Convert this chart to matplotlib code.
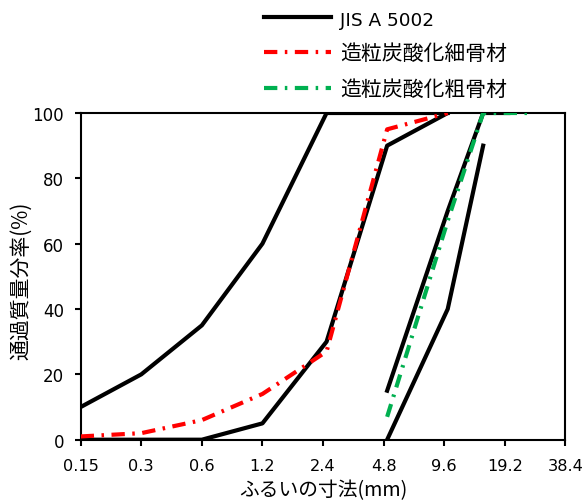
import numpy as np
import matplotlib
matplotlib.use("Agg")
import matplotlib.pyplot as plt
from matplotlib.ticker import FixedLocator, NullLocator

plt.rcParams.update({
    "font.family": ["DejaVu Sans", "Noto Sans CJK JP"],
    "font.size": 12,
    "axes.linewidth": 1.5,
    "xtick.major.width": 1.5,
    "ytick.major.width": 1.5,
    "xtick.major.size": 4,
    "ytick.major.size": 4,
})
JP = ["Noto Sans CJK JP", "DejaVu Sans"]

C_JIS = "black"
C_FINE = "#FF0000"
C_COARSE = "#00B050"

# sieve sizes (mm) and passing percentages
fine_sieves = [0.15, 0.3, 0.6, 1.2, 2.5, 5, 10]
jis_fine_upper = [10, 20, 35, 60, 100, 100, 100]
jis_fine_lower = [0, 0, 0, 5, 30, 90, 100]

coarse_sieves_upper = [5, 10, 15, 20]
jis_coarse_upper = [15, 70, 100, 100]
coarse_sieves_lower = [5, 10, 15]
jis_coarse_lower = [0, 40, 90]

granulated_fine = [1, 2, 6, 14, 27, 95, 100]

granulated_coarse_sieves = [5, 10, 15, 20, 25]
granulated_coarse = [7, 67, 100, 100, 100]

tick_vals = [0.15, 0.3, 0.6, 1.2, 2.4, 4.8, 9.6, 19.2, 38.4]
tick_labels = ["0.15", "0.3", "0.6", "1.2", "2.4", "4.8", "9.6", "19.2", "38.4"]

fig = plt.figure(figsize=(5.83, 5.02), dpi=100)
ax = fig.add_axes([80.7 / 583, (502 - 440.7) / 502, (565.3 - 80.7) / 583, 326.7 / 502])

lw = 3.0
ax.plot(fine_sieves, jis_fine_upper, color=C_JIS, lw=lw, label="JIS A 5002", zorder=3)
ax.plot(fine_sieves, jis_fine_lower, color=C_JIS, lw=lw, zorder=3)
ax.plot(coarse_sieves_upper, jis_coarse_upper, color=C_JIS, lw=lw, zorder=3)
ax.plot(coarse_sieves_lower, jis_coarse_lower, color=C_JIS, lw=lw, zorder=3)

dashdot = (0, (3.2, 1.8, 0.6, 1.8))
ax.plot(fine_sieves, granulated_fine, color=C_FINE, lw=lw, ls=dashdot,
        label="造粒炭酸化細骨材", zorder=4)
ax.plot(granulated_coarse_sieves, granulated_coarse, color=C_COARSE, lw=lw, ls=dashdot,
        label="造粒炭酸化粗骨材", zorder=4)

ax.set_xscale("log", base=2)
ax.set_xlim(0.15, 38.4)
ax.set_ylim(0, 100)
ax.xaxis.set_major_locator(FixedLocator(tick_vals))
ax.xaxis.set_minor_locator(NullLocator())
ax.set_xticklabels(tick_labels)
ax.set_yticks([0, 20, 40, 60, 80, 100])
ax.tick_params(axis="x", pad=9, labelsize=11.6)
ax.tick_params(axis="y", pad=8, labelsize=12)
for s in ax.spines.values():
    s.set_clip_on(False)

ax.set_xlabel("ふるいの寸法(mm)", fontsize=14.2, family=JP)
ax.xaxis.set_label_coords(0.5, -0.122)
ax.set_ylabel("通過質量分率(%)", fontsize=15, family=JP)
ax.yaxis.set_label_coords(-0.1, 0.49)

leg = fig.legend(loc="upper left", bbox_to_anchor=(264 / 583, 1 - 11 / 502),
                 frameon=False, prop={"family": JP, "size": 15},
                 handlelength=3.2, handletextpad=0.45,
                 labelspacing=0.66, borderpad=0, borderaxespad=0)
leg.get_texts()[0].set_family(["DejaVu Sans"])
leg.get_texts()[0].set_fontsize(13.3)

fig.savefig("out.png", dpi=100)
